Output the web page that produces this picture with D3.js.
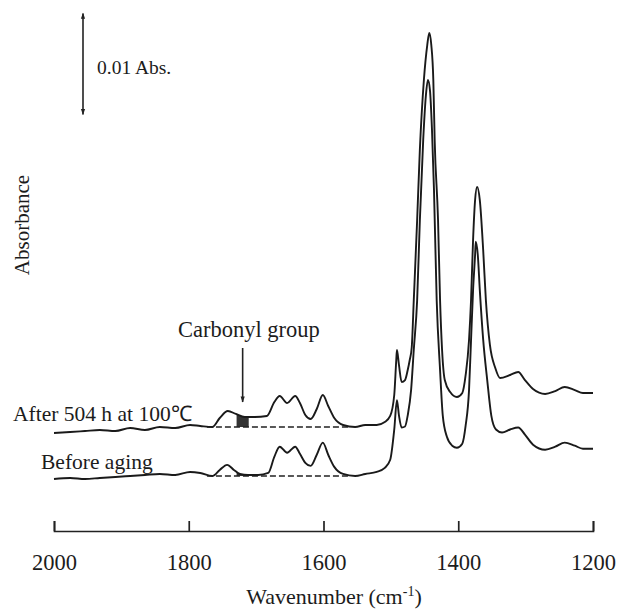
<!DOCTYPE html>
<html>
<head>
<meta charset="utf-8">
<script src="https://cdn.jsdelivr.net/npm/d3@7"></script>
<style>
  body { margin: 0; background: #fff; }
  text { font-family: "Liberation Serif", "Times New Roman", serif; fill: #1c1c1c; }
</style>
</head>
<body>
<div id="chart"></div>
<script>
// DATA ------------------------------
const tickValues = [2000, 1800, 1600, 1400, 1200];

// [wavenumber cm-1, absorbance as plotted (stacked)]
const afterAging = [
  [2000,0.00446],[1976,0.00455],[1954,0.00465],[1932,0.00475],[1909,0.00465],[1887,0.00495],
  [1865,0.00475],[1843,0.00505],[1820,0.00495],[1798,0.00525],[1783,0.00515],[1765,0.00505],
  [1754,0.00594],[1742,0.00663],[1730,0.00634],[1717,0.00604],[1702,0.00604],[1684,0.00614],
  [1673,0.00752],[1665,0.00812],[1654,0.00743],[1642,0.00812],[1635,0.00743],[1627,0.00624],
  [1619,0.00584],[1610,0.00683],[1601,0.00822],[1593,0.00713],[1584,0.00594],[1571,0.00525],
  [1553,0.00505],[1538,0.00525],[1521,0.00525],[1509,0.00554],[1501,0.00614],[1495,0.00822],
  [1492,0.01168],[1491,0.01267],[1488,0.01119],[1484,0.00950],[1479,0.00970],[1475,0.01069],
  [1472,0.01168],[1469,0.01297],[1466,0.01762],[1461,0.02554],[1457,0.03248],[1451,0.03941],
  [1446,0.04287],[1443,0.04406],[1440,0.04287],[1437,0.03941],[1435,0.03347],[1430,0.02554],
  [1427,0.01762],[1424,0.01267],[1420,0.00970],[1412,0.00851],[1402,0.00802],[1394,0.00842],
  [1389,0.01020],[1384,0.01366],[1381,0.01762],[1378,0.02356],[1375,0.02752],[1372,0.02881],
  [1368,0.02752],[1363,0.02257],[1359,0.01762],[1353,0.01317],[1345,0.01089],[1338,0.00990],
  [1323,0.01020],[1311,0.01050],[1301,0.00970],[1289,0.00881],[1271,0.00832],[1256,0.00861],
  [1242,0.00901],[1227,0.00871],[1215,0.00842],[1200,0.00842]
];

const beforeAging = [
  [2000,-0.0001],[1976,0.0000],[1954,-0.0001],[1932,0.0000],[1909,0.0001],[1887,0.0002],
  [1865,0.0003],[1843,0.0004],[1820,0.0003],[1798,0.0006],[1783,0.0005],[1765,0.0002],
  [1754,0.0008],[1743,0.0013],[1733,0.0008],[1724,0.0004],[1712,0.0003],[1697,0.0003],
  [1682,0.0005],[1673,0.0021],[1665,0.0031],[1654,0.0025],[1642,0.0031],[1635,0.0024],
  [1627,0.0015],[1619,0.0012],[1610,0.0023],[1601,0.0035],[1593,0.0023],[1584,0.0011],
  [1571,0.0004],[1553,0.0002],[1538,0.0004],[1521,0.0006],[1509,0.0010],[1501,0.0018],
  [1495,0.0048],[1491,0.0077],[1488,0.0062],[1484,0.0050],[1479,0.0051],[1475,0.0062],
  [1470,0.0087],[1466,0.0127],[1461,0.0176],[1457,0.0255],[1452,0.0335],[1448,0.0379],
  [1445,0.0394],[1442,0.0384],[1439,0.0345],[1436,0.0285],[1432,0.0176],[1427,0.0107],
  [1423,0.0062],[1417,0.0041],[1409,0.0032],[1402,0.0030],[1394,0.0034],[1389,0.0052],
  [1384,0.0087],[1381,0.0137],[1378,0.0186],[1375,0.0221],[1374,0.0234],[1371,0.0221],
  [1368,0.0186],[1363,0.0137],[1357,0.0097],[1351,0.0062],[1344,0.0048],[1335,0.0045],
  [1323,0.0048],[1311,0.0050],[1301,0.0043],[1289,0.0033],[1271,0.0028],[1256,0.0031],
  [1242,0.0035],[1227,0.0032],[1215,0.0029],[1200,0.0029]
];

const baselineRange = [1773, 1561];
const baselineAfter = 0.00505;
const baselineBefore = 0.0002;
const carbonylRange = [1729, 1711];
const scaleBarRange = [0.036, 0.046];   // 0.01 Abs
// DATA ------------------------------


// CHART INIT ------------------------------
const width = 618, height = 609;

let svg = d3.select('#chart').append('svg')
  .attr('width', width)
  .attr('height', height);

let xScale = d3.scaleLinear().domain([2000, 1200]).range([54, 593]);
let yScale = d3.scaleLinear().domain([0, 0.01]).range([478, 377]);

let defs = svg.append("defs");
defs.append("marker")
  .attr("id", "head")
  .attr("viewBox", "0 0 10 10")
  .attr("refX", 9).attr("refY", 5)
  .attr("markerWidth", 7).attr("markerHeight", 6)
  .attr("orient", "auto-start-reverse")
  .attr("markerUnits", "userSpaceOnUse")
  .append("path")
  .attr("d", "M0,1.5 L10,5 L0,8.5 Z")
  .attr("fill", "#222");

// x axis (ticks pointing up)
let xAxis = d3.axisBottom(xScale)
  .tickValues(tickValues)
  .tickFormat(d3.format("d"))
  .tickSize(-10)
  .tickPadding(23);

let xAxisGroup = svg.append("g")
  .attr("class", "x-axis axis")
  .attr("transform", "translate(0,531)")
  .call(xAxis);

xAxisGroup.selectAll("path, line").attr("stroke", "#222").attr("stroke-width", 1.7);
xAxisGroup.selectAll("text")
  .style("font-family", '"Liberation Serif", "Times New Roman", serif')
  .style("font-size", "22.5px")
  .attr("fill", "#1c1c1c");

let xTitle = svg.append("text")
  .attr("x", 334)
  .attr("y", 604)
  .style("text-anchor", "middle")
  .style("font-size", "22px")
  .text("Wavenumber (cm");
xTitle.append("tspan").attr("dy", -8).style("font-size", "14px").text("-1");
xTitle.append("tspan").attr("dy", 8).text(")");

svg.append("text")
  .attr("transform", "translate(29,225) rotate(-90)")
  .style("text-anchor", "middle")
  .style("font-size", "21px")
  .text("Absorbance");

// scale bar
svg.append("line")
  .attr("x1", 83).attr("x2", 83)
  .attr("y1", yScale(scaleBarRange[0])).attr("y2", yScale(scaleBarRange[1]))
  .attr("stroke", "#222").attr("stroke-width", 1.6)
  .attr("marker-start", "url(#head)")
  .attr("marker-end", "url(#head)");

svg.append("text")
  .attr("x", 97).attr("y", 74)
  .style("font-size", "19.5px")
  .text("0.01 Abs.");
// CHART INIT ------------------------------


// DRAW ------------------------------
let line = d3.line()
  .x(d => xScale(d[0]))
  .y(d => yScale(d[1]))
  .curve(d3.curveMonotoneX);

function interp(series, w) {
  for (let i = 0; i < series.length - 1; i++) {
    let a = series[i], b = series[i + 1];
    if (w <= a[0] && w >= b[0]) {
      let t = (a[0] - w) / (a[0] - b[0]);
      return a[1] + t * (b[1] - a[1]);
    }
  }
  return series[series.length - 1][1];
}

function carbonylPoints(series) {
  let pts = [[carbonylRange[0], interp(series, carbonylRange[0])]];
  series.forEach(d => { if (d[0] < carbonylRange[0] && d[0] > carbonylRange[1]) pts.push(d); });
  pts.push([carbonylRange[1], interp(series, carbonylRange[1])]);
  return pts;
}

let spectra = [
  {name: "after", data: afterAging, base: baselineAfter},
  {name: "before", data: beforeAging, base: baselineBefore}
];

spectra.forEach(s => {
  // carbonyl area
  let area = d3.area()
    .x(d => xScale(d[0]))
    .y0(yScale(s.base))
    .y1(d => yScale(d[1]));
  svg.append("path")
    .datum(carbonylPoints(s.data))
    .attr("d", area)
    .attr("fill", "#333");

  // dashed baseline
  svg.append("line")
    .attr("x1", xScale(baselineRange[0])).attr("x2", xScale(baselineRange[1]))
    .attr("y1", yScale(s.base)).attr("y2", yScale(s.base))
    .attr("stroke", "#222").attr("stroke-width", 1.5)
    .attr("stroke-dasharray", "6,3");

  svg.append("path")
    .datum(s.data)
    .attr("class", "spectrum " + s.name)
    .attr("d", line)
    .attr("fill", "none")
    .attr("stroke", "#1a1a1a")
    .attr("stroke-width", 1.9)
    .attr("stroke-linejoin", "round");
});

// labels
svg.append("text")
  .attr("x", 13).attr("y", 421)
  .style("font-size", "21.5px")
  .text("After 504 h at 100℃");

svg.append("text")
  .attr("x", 41).attr("y", 469)
  .style("font-size", "21.5px")
  .text("Before aging");

svg.append("text")
  .attr("x", 178).attr("y", 337)
  .style("font-size", "22.5px")
  .text("Carbonyl group");

svg.append("line")
  .attr("x1", xScale(1720)).attr("x2", xScale(1720))
  .attr("y1", 348).attr("y2", 402)
  .attr("stroke", "#222").attr("stroke-width", 1.6)
  .attr("marker-end", "url(#head)");
// DRAW ------------------------------
</script>
</body>
</html>
